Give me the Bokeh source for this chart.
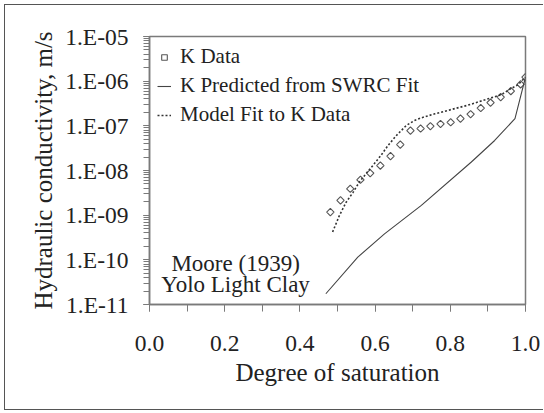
import math
from bokeh.plotting import figure
from bokeh.models import (Legend, LegendItem, Label, CustomJSTickFormatter,
                          FixedTicker, LogTicker, Range1d, ColumnDataSource)
from bokeh.embed import file_html
from bokeh.resources import INLINE

# ---- data ----
k_data_s = [0.481, 0.508, 0.534, 0.561, 0.587, 0.614, 0.641, 0.667, 0.694, 0.721,
            0.747, 0.774, 0.801, 0.827, 0.854, 0.881, 0.907, 0.934, 0.961, 0.987, 1.0]
k_data_k = [1.17e-9, 2.14e-9, 3.9e-9, 6.2e-9, 8.7e-9, 1.29e-8, 2.1e-8, 3.8e-8, 7.8e-8, 8.7e-8,
            9.8e-8, 1.10e-7, 1.20e-7, 1.45e-7, 1.82e-7, 2.5e-7, 3.3e-7, 4.4e-7, 6.0e-7, 8.5e-7, 1.23e-6]

swrc_s = [0.469, 0.554, 0.625, 0.723, 0.856, 0.918, 0.972, 1.0]
swrc_k = [1.74e-11, 1.15e-10, 3.8e-10, 1.66e-9, 1.55e-8, 4.7e-8, 1.45e-7, 1.23e-6]

fit_s = [0.487, 0.505, 0.523, 0.541, 0.558, 0.576, 0.594, 0.616, 0.634, 0.656, 0.683,
         0.705, 0.723, 0.759, 0.847, 0.936, 0.961, 0.98, 1.0]
fit_k = [4.2e-10, 9.8e-10, 1.95e-9, 3.2e-9, 5.5e-9, 8.5e-9, 1.29e-8, 2.2e-8, 3.6e-8, 6.0e-8,
         1.02e-7, 1.32e-7, 1.51e-7, 1.86e-7, 2.9e-7, 5.0e-7, 6.8e-7, 8.3e-7, 1.23e-6]

x_ticks = [0.0, 0.2, 0.4, 0.6, 0.8, 1.0]
legend_labels = ["K Data", "K Predicted from SWRC Fit", "Model Fit to K Data"]
note_lines = ["Moore (1939)", "Yolo Light Clay"]

FONT = "Liberation Serif"
TXT = "#222222"
GRAY = "#7a7a7a"

p = figure(width=539, height=406, output_backend="svg", toolbar_location=None,
           y_axis_type="log", x_range=Range1d(0, 1), y_range=Range1d(1e-11, 1e-5),
           min_border_left=144, min_border_top=31, min_border_right=19, min_border_bottom=107,
           styles={"position": "absolute", "left": "4px", "top": "4px",
                   "border-left": "1px solid #555", "border-top": "1px solid #555",
                   "border-bottom": "1px solid #555", "border-right": "none"})
p.grid.visible = False
p.outline_line_color = GRAY
p.outline_line_width = 1.5
p.background_fill_color = "white"
p.border_fill_color = "white"

# x axis
p.xaxis.ticker = FixedTicker(ticks=x_ticks, minor_ticks=[round(0.1 * i, 1) for i in range(11)])
p.xaxis.formatter = CustomJSTickFormatter(code="return tick.toFixed(1);")
p.xaxis.axis_label = "Degree of saturation"
# y axis
p.yaxis.ticker = LogTicker(num_minor_ticks=10)
p.yaxis.formatter = CustomJSTickFormatter(code="""
const e = Math.round(Math.log10(tick));
return "1.E" + (e < 0 ? "-" : "+") + String(Math.abs(e)).padStart(2, "0");
""")
p.yaxis.axis_label = "Hydraulic conductivity, m/s"

for ax in (p.xaxis[0], p.yaxis[0]):
    ax.axis_line_color = GRAY
    ax.axis_line_width = 1.5
    ax.major_tick_line_color = GRAY
    ax.minor_tick_line_color = GRAY
    ax.major_tick_in = 0
    ax.minor_tick_in = 0
    ax.major_label_text_font = FONT
    ax.major_label_text_font_size = "23.5px"
    ax.major_label_text_color = TXT
    ax.axis_label_text_font = FONT
    ax.axis_label_text_font_size = "25px"
    ax.axis_label_text_font_style = "normal"
    ax.axis_label_text_color = TXT
p.xaxis.major_tick_out = 7
p.xaxis.minor_tick_out = 7
p.xaxis.major_label_standoff = 24
p.xaxis.axis_label_standoff = 5
p.yaxis.major_tick_out = 6
p.yaxis.minor_tick_out = 6
p.yaxis.major_label_standoff = 15
p.yaxis.axis_label_standoff = 5

src = ColumnDataSource(data=dict(s=k_data_s, k=k_data_k,
                                 ang=[math.pi / 4] * len(k_data_s)))
r_data = p.scatter("s", "k", source=src, marker="square", angle="ang", angle_units="rad",
                   size=5.2, fill_color=None, line_color="#555555", line_width=1.1)
r_swrc = p.line(swrc_s, swrc_k, line_color="#444444", line_width=1.1)
r_fit = p.line(fit_s, fit_k, line_color="#333333", line_width=1.6, line_dash="2 2")

legend = Legend(items=[LegendItem(label=legend_labels[0], renderers=[r_data]),
                       LegendItem(label=legend_labels[1], renderers=[r_swrc]),
                       LegendItem(label=legend_labels[2], renderers=[r_fit])],
                location="top_left", margin=8, padding=0, spacing=4,
                glyph_width=14, glyph_height=16, label_standoff=9,
                border_line_alpha=0, background_fill_alpha=0,
                label_text_font=FONT, label_text_font_size="21px", label_text_color=TXT)
p.add_layout(legend)

for txt, yv in zip(note_lines, [10 ** -10.09, 10 ** -10.56]):
    p.add_layout(Label(x=0.229, y=yv, text=txt, text_align="center", text_baseline="middle",
                       text_font=FONT, text_font_size="23px", text_color=TXT))

open("out.html", "w").write(file_html(p, INLINE))
